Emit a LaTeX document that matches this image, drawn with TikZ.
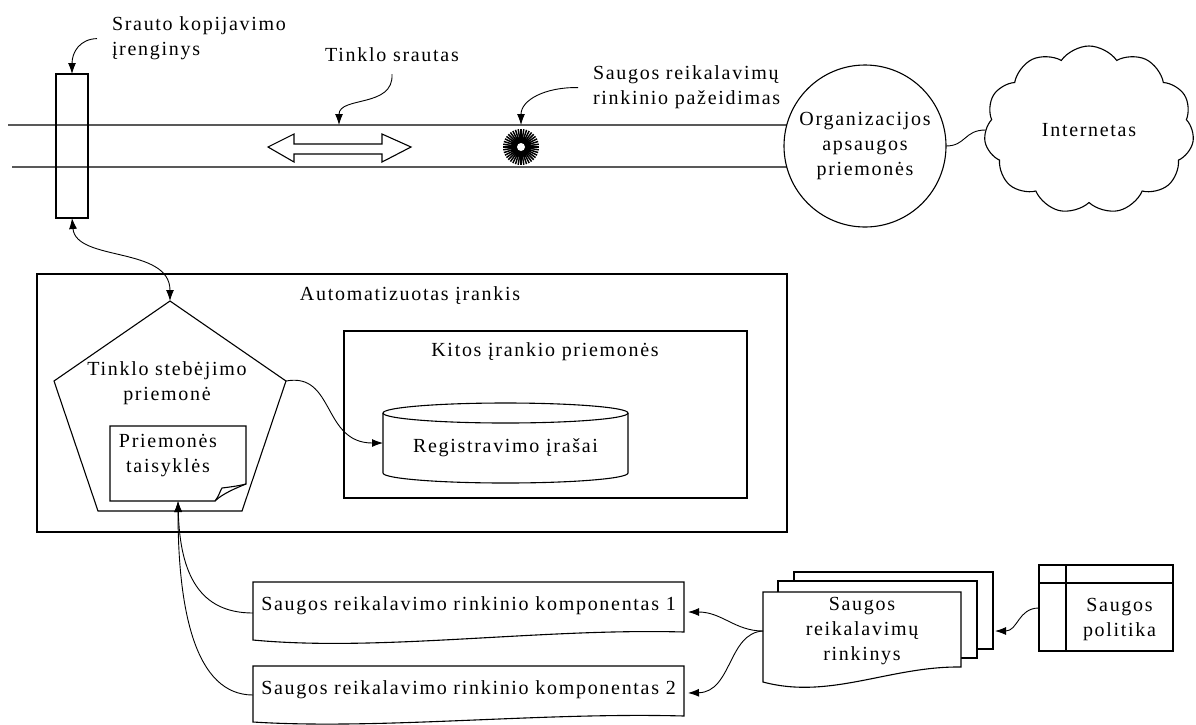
\documentclass[tikz,border=0pt]{standalone}
\usepackage{fontspec}
\setmainfont{Liberation Serif}[LetterSpace=8.5]
\usetikzlibrary{arrows.meta,shapes.symbols}
\begin{document}
\begin{tikzpicture}[x=1pt,y=-1pt,
  font=\fontsize{20}{25}\selectfont,
  line width=1.1pt,
  every node/.style={inner sep=0pt,outer sep=0pt},
  conn/.style={line width=0.9pt},
  arr/.style={conn,-{Latex[length=11pt,width=8pt]}},
  darr/.style={conn,{Latex[length=11pt,width=8pt]}-{Latex[length=11pt,width=8pt]}},
  boxed/.style={draw,fill=white},
  ]
\useasboundingbox (0,0) rectangle (1196,724);

% --- network traffic channel -------------------------------------------
\node[draw,circle,minimum size=162,align=center] (circ) at (865,146)
  {Organizacijos\\apsaugos\\priemonės};
\coordinate (chanA) at (8,125);
\coordinate (chanB) at (12,167);
\draw (chanA) -- (circ.165);
\draw (chanB) -- (circ.195);
\node[draw,minimum width=32,minimum height=144] (dev) at (72,146) {};

\node[cloud,draw,cloud puffs=11,cloud puff arc=110,cloud ignores aspect,
      minimum width=210,minimum height=168] (net) at (1089,130) {Internetas};
\draw[conn] (circ.east) .. controls (966,146) and (964,130) .. (net.west);

% traffic double arrow
\draw (268,147) -- (294,134) -- (294,144) -- (382,144) -- (382,134) -- (411,147)
  -- (382,162) -- (382,154) -- (294,154) -- (294,162) -- cycle;

% violation burst
\coordinate (burst) at (521,147);
\foreach \a in {0,9,...,351}
  \draw[line width=1.5pt] ([shift={(\a:6pt)}]burst) -- ([shift={(\a:18pt)}]burst);
\fill (burst) circle[radius=10pt];
\fill[white] (burst) circle[radius=4pt];

% labels on the channel
\node[anchor=north west,align=left] (devlbl) at (112,17) {Srauto kopijavimo\\įrenginys};
\draw[arr] ([xshift=-15pt]devlbl.west) .. controls (80,39) and (72,52) .. (dev.north);

\node[anchor=north] (flowlbl) at (392,48) {Tinklo srautas};
\coordinate (flowpt) at (339,125);
\draw[arr] ([yshift=-12pt]flowlbl.south) .. controls (394,108) and (339,96) .. (flowpt);

\node[anchor=north west,align=left] (brlbl) at (593,66) {Saugos reikalavimų\\rinkinio pažeidimas};
\coordinate (burstpt) at (521,125);
\draw[arr] ([xshift=-15pt]brlbl.west) .. controls (545,87) and (521,100) .. (burstpt);

% --- automated tool ----------------------------------------------------
\node[draw,minimum width=750,minimum height=258,anchor=north west] (tool) at (37,274) {};
\node (tooltitle) at (410,296) {Automatizuotas įrankis};

% monitoring pentagon
\coordinate (pT) at (170,301);
\coordinate (pL) at (54,381);
\coordinate (pR) at (286,381);
\coordinate (pBR) at (242,511);
\coordinate (pBL) at (98,511);
\draw (pT) -- (pR) -- (pBR) -- (pBL) -- (pL) -- cycle;
\node[anchor=north,align=center] (montxt) at (167,362) {Tinklo stebėjimo\\priemonė};

% rules note with folded corner
\node[minimum width=136,minimum height=75] (rules) at (178,463.5) {};
\draw (110,426) -- (246,426) -- (246,484) .. controls (236,488) and (222,494) .. (215,501)
  -- (110,501) -- cycle;
\draw (215,501) .. controls (219,496) and (220,491) .. (222,488)
  .. controls (230,487) and (238,486) .. (246,484);
\node[align=center] (rulestxt) at (168,456) {Priemonės\\taisyklės};

% other tool facilities
\node[draw,minimum width=403,minimum height=167,anchor=north west] (other) at (344,331) {};
\node (othertitle) at (545,352) {Kitos įrankio priemonės};

% log storage cylinder
\node[minimum width=245,minimum height=70] (logs) at (505.5,448) {Registravimo įrašai};
\draw (383,413) -- (383,473) arc[start angle=180,end angle=360,x radius=122.5pt,y radius=10pt]
  -- (628,413);
\draw (505.5,413) ellipse[x radius=122.5pt,y radius=10pt];
\coordinate (logsW) at (383,443);

\draw[darr] (dev.south) .. controls (76,262) and (170,246) .. (pT);
\draw[arr] (pR) .. controls (335,372) and (322,443) .. (logsW);

% --- requirement set components ------------------------------------------
\node[minimum width=431,minimum height=48] (c1) at (468.5,606) {Saugos reikalavimo rinkinio komponentas 1};
\draw (c1.north west) -- (c1.north east) -- (684,632) .. controls (540,628) and (380,652) .. (253,640) -- cycle;
\node[minimum width=431,minimum height=48] (c2) at (468.5,690) {Saugos reikalavimo rinkinio komponentas 2};
\draw (c2.north west) -- (c2.north east) -- (684,716) .. controls (540,712) and (380,730) .. (253,722) -- cycle;

\draw[arr] ([yshift=-7pt]c1.west) .. controls (200,613) and (180,575) .. (rules.south);
\draw[arr] ([yshift=-5pt]c2.west) .. controls (195,695) and (178,610) .. (rules.south);

% stacked requirement sets
\node[boxed,minimum width=199,minimum height=77,anchor=north west] (setback) at (794,572) {};
\node[boxed,minimum width=199,minimum height=77,anchor=north west] (setmid) at (778,581) {};
\draw[fill=white] (763,592) -- (961,592) -- (961,667) .. controls (890,666) and (830,700) .. (763,682) -- cycle;
\node[align=center,minimum width=198] (set) at (862,631) {Saugos\\reikalavimų\\rinkinys};

\draw[arr] (set.west) .. controls (735,631) and (722,612) .. ([shift={(4pt,-6pt)}]c1.east);
\draw[arr] (set.west) .. controls (728,633) and (732,692) .. ([shift={(4pt,-3pt)}]c2.east);

% security policy
\node[draw,minimum width=134,minimum height=86] (pol) at (1106,608) {};
\draw (1066,565) -- (1066,651);
\draw (1039,583) -- (1173,583);
\node[align=center] (poltxt) at (1119.5,619) {Saugos\\politika};
\draw[arr] (pol.west) .. controls (1018,608) and (1018,631) .. ([xshift=2pt]setback.east |- set.west);
\end{tikzpicture}
\end{document}
